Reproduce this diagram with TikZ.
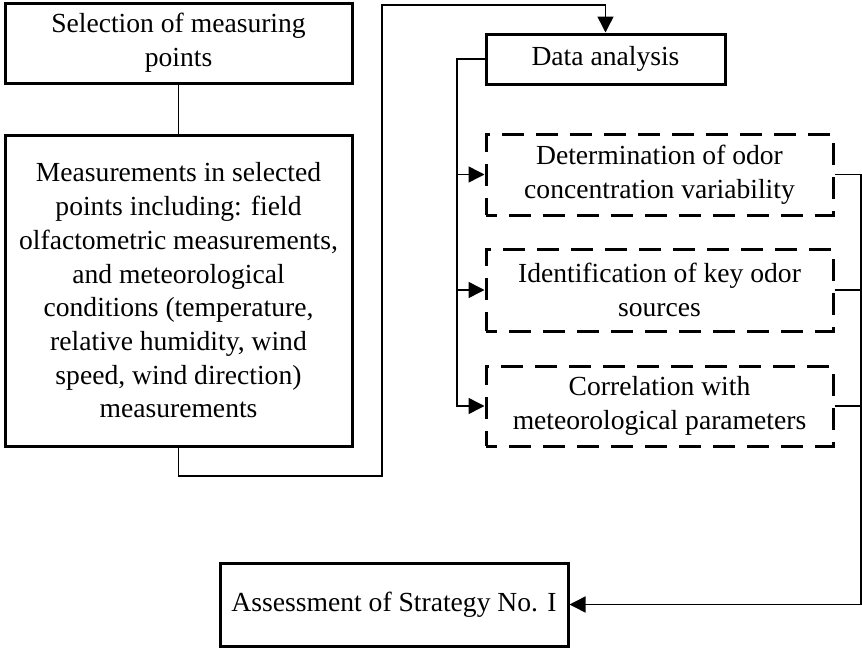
\documentclass[tikz,border=0pt]{standalone}
\usepackage{fontspec}
\setmainfont{Liberation Serif}
\usetikzlibrary{arrows.meta,positioning}
\tikzset{
  block/.style={rectangle,draw=black,line width=1.5pt,fill=white,
    align=center,inner sep=0pt,font=\fontsize{13.8}{16.85}\selectfont},
  task/.style={block,dash pattern=on 11pt off 6pt,dash phase=5.5pt},
  link/.style={line width=0.75pt},
  arrow/.style={link,-{Triangle[length=8pt,width=8pt]}}
}

\begin{document}
\begin{tikzpicture}[x=0.5pt,y=-0.5pt]
  \useasboundingbox (0,0) rectangle (862,648);

  % left column
  \node[block,minimum width=173.5pt,minimum height=40pt] (select) at (178.5,43)
    {Selection of measuring\\points};
  \node[block,minimum width=173.5pt,minimum height=155.5pt] (measure) at (178.5,290.5)
    {Measurements in selected\\
     points including: field\\
     olfactometric measurements,\\
     and meteorological\\
     conditions (temperature,\\
     relative humidity, wind\\
     speed, wind direction)\\
     measurements};

  % right column
  \node[block,minimum width=119.5pt,minimum height=25pt] (analysis) at (605.5,59)
    {Data analysis};
  \node[task,minimum width=173.5pt,minimum height=40.5pt] (variab) at (659.5,174.5)
    {Determination of odor\\concentration variability};
  \node[task,minimum width=173.5pt,minimum height=41pt] (sources) at (659.5,290)
    {Identification of key odor\\sources};
  \node[task,minimum width=173.5pt,minimum height=40pt] (meteo) at (659.5,406)
    {Correlation with\\meteorological parameters};

  \node[block,minimum width=174pt,minimum height=41.5pt] (assess) at (394,604.5)
    {Assessment of Strategy No. I};

  \coordinate (turnlow) at (382,476);
  \coordinate (turnhigh) at (382,5);
  \coordinate (lbus) at (457,0);
  \coordinate (rbus) at (861,0);

  \draw[link] (select) -- (measure);
  \draw[arrow] (measure.south) |- (turnlow) -- (turnhigh) -| (analysis.north);

  \draw[arrow] (analysis.west) -- (analysis.west -| lbus) |- (meteo.west);
  \draw[arrow] (lbus |- variab.west) -- (variab.west);
  \draw[arrow] (lbus |- sources.west) -- (sources.west);

  \draw[arrow] (variab.east) -| (rbus |- assess.east) -- (assess.east);
  \draw[link] (sources.east) -- (sources.east -| rbus);
  \draw[link] (meteo.east) -- (meteo.east -| rbus);
\end{tikzpicture}
\end{document}
